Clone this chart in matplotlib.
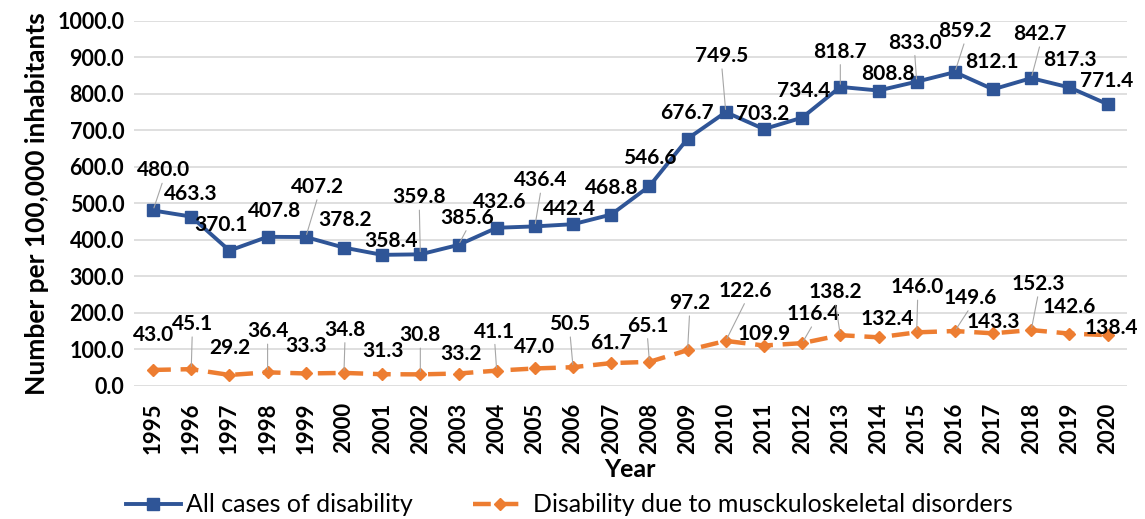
import matplotlib.pyplot as plt

years = [str(y) for y in range(1995, 2021)]
all_cases = [480.0, 463.3, 370.1, 407.8, 407.2, 378.2, 358.4, 359.8, 385.6, 432.6,
             436.4, 442.4, 468.8, 546.6, 676.7, 749.5, 703.2, 734.4, 818.7, 808.8,
             833.0, 859.2, 812.1, 842.7, 817.3, 771.4]
msk = [43.0, 45.1, 29.2, 36.4, 33.3, 34.8, 31.3, 30.8, 33.2, 41.1,
       47.0, 50.5, 61.7, 65.1, 97.2, 122.6, 109.9, 116.4, 138.2, 132.4,
       146.0, 149.6, 143.3, 152.3, 142.6, 138.4]

# label offsets in pixels (dx, dy up), and which labels get a leader line
blue_off = [(10, 40), (0, 23), (-8, 26), (7, 26), (12, 50), (1, 28), (9, 14), (-1, 57), (9, 27), (3, 26),
            (6, 46), (-4, 15), (1, 27), (0, 28), (-1, 26), (-4, 56), (-1, 15), (1, 27), (0, 35), (9, 17),
            (-2, 39), (10, 41), (-1, 27), (9, 44), (1, 27), (-1, 23)]
blue_lead = {0, 4, 7, 8, 10, 15, 18, 20, 21, 23}
orange_off = [(0, 35), (1, 45), (0, 27), (0, 41), (0, 27), (1, 43), (1, 23), (0, 39), (2, 20), (-2, 39),
              (0, 21), (-3, 43), (0, 20), (-2, 36), (2, 47), (20, 50), (0, 12), (11, 29), (-5, 43), (9, 18),
              (1, 45), (15, 33), (0, 11), (7, 46), (0, 27), (4, 7)]
orange_lead = {1, 3, 5, 7, 9, 11, 13, 14, 15, 17, 18, 20, 21, 23}

plt.rcParams['font.family'] = ['Lato', 'DejaVu Sans']

blue = '#2F5597'
orange = '#ED7D31'

fig = plt.figure(figsize=(11.45, 5.19), dpi=100)
ax = fig.add_axes([0.117, 0.257, 0.867, 0.703])
x = list(range(len(years)))

ax.plot(x, all_cases, color=blue, lw=2.8, marker='s', ms=8, zorder=3,
        label='All cases of disability')
ax.plot(x, msk, color=orange, lw=3.2, ls=(0, (4, 2.2)), marker='D', ms=6.5, zorder=3,
        label='Disability due to musckuloskeletal disorders')


def add_labels(vals, offs, leads):
    for i, v in enumerate(vals):
        dx, dy = offs[i]
        ap = None
        if i in leads:
            ap = dict(arrowstyle='-', color='#A6A6A6', lw=0.8, shrinkA=0, shrinkB=2,
                      relpos=(0.5, 0))
        ax.annotate('%.1f' % v, (i, v), xytext=(dx, dy), textcoords='offset pixels',
                    ha='center', va='center', fontsize=15, fontweight='bold',
                    arrowprops=ap, zorder=4, annotation_clip=False)


add_labels(all_cases, blue_off, blue_lead)
add_labels(msk, orange_off, orange_lead)

ax.set_xlim(-0.5, len(years) - 0.5)
ax.set_ylim(0, 1000)
ax.set_yticks(range(0, 1001, 100))
ax.set_yticklabels(['%.1f' % t for t in range(0, 1001, 100)], fontsize=15.5, fontweight='bold')
ax.set_xticks(x)
ax.set_xticklabels(years, rotation=90, fontsize=16, fontweight='bold')
ax.tick_params(axis='y', length=0, pad=7)
ax.tick_params(axis='x', length=0, pad=12)
ax.grid(axis='y', color='#D9D9D9', lw=1.2)
ax.set_axisbelow(True)
for s in ax.spines.values():
    s.set_visible(False)

ax.set_ylabel('Number per 100,000 inhabitants', fontsize=19, fontweight='bold', labelpad=6)
ax.set_xlabel('Year', fontsize=18, fontweight='bold', labelpad=3)

fig.legend(loc='center left', bbox_to_anchor=(0.099, 0.027), ncol=2, frameon=False,
           fontsize=18, borderpad=0, handlelength=2.2, handletextpad=0.2, columnspacing=2.4)

fig.savefig('out.png', dpi=100)
